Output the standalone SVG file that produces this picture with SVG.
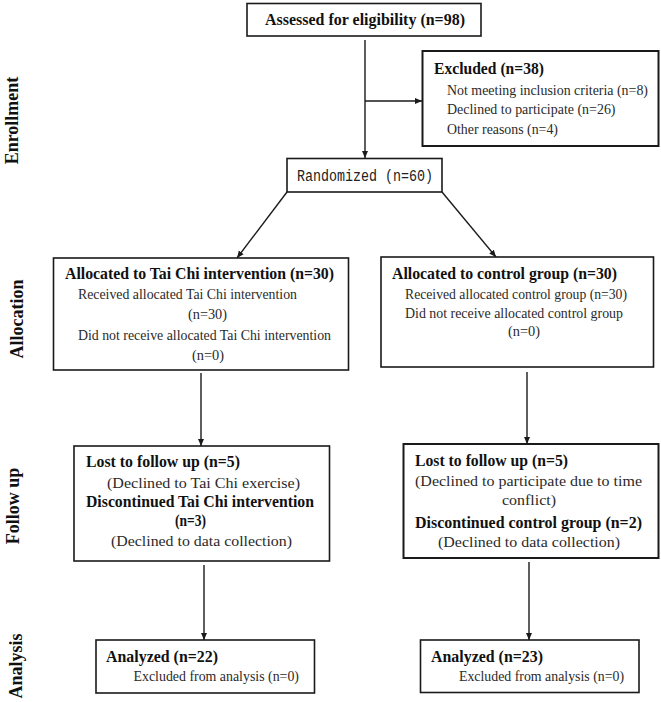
<svg xmlns="http://www.w3.org/2000/svg" width="661" height="702" viewBox="0 0 661 702">
<style>
.box{fill:#fff;stroke:#1a1a1a;stroke-width:1.6}
.b{font-family:"Liberation Serif","Times New Roman",serif;font-weight:bold;font-size:16.5px;fill:#111}
.r{font-family:"Liberation Serif","Times New Roman",serif;font-size:14.5px;fill:#2a2a2a}
.m{font-family:"Liberation Mono","Courier New",monospace;font-size:16px;fill:#222}
.side{font-family:"Liberation Serif","Times New Roman",serif;font-weight:bold;font-size:18px;fill:#111}
.c{text-anchor:middle}
.ln{stroke:#1a1a1a;stroke-width:1.4;fill:none}
</style>
<defs>
<marker id="ah" markerUnits="userSpaceOnUse" markerWidth="8" markerHeight="8" viewBox="0 0 8 8" refX="7" refY="4" orient="auto">
<path d="M0,1 L7,4 L0,7 Z" fill="#1a1a1a"/>
</marker>
</defs>
<rect width="661" height="702" fill="#fff"/>

<g id="labels">
<text class="side c" transform="translate(18,120.5) rotate(-90)">Enrollment</text>
<text class="side c" transform="translate(23,319) rotate(-90)">Allocation</text>
<text class="side c" transform="translate(19,506) rotate(-90)">Follow up</text>
<text class="side c" transform="translate(22,666) rotate(-90)">Analysis</text>
</g>

<g id="connectors">
<line class="ln" x1="365" y1="40" x2="365" y2="158" marker-end="url(#ah)"/>
<line class="ln" x1="365" y1="101" x2="422" y2="101" marker-end="url(#ah)"/>
<line class="ln" x1="287" y1="192" x2="237" y2="258" marker-end="url(#ah)"/>
<line class="ln" x1="442" y1="192" x2="496" y2="257" marker-end="url(#ah)"/>
<line class="ln" x1="201" y1="373" x2="201" y2="446" marker-end="url(#ah)"/>
<line class="ln" x1="527" y1="372" x2="527" y2="444" marker-end="url(#ah)"/>
<line class="ln" x1="204" y1="565" x2="204" y2="640" marker-end="url(#ah)"/>
<line class="ln" x1="529" y1="562" x2="529" y2="640" marker-end="url(#ah)"/>
</g>

<g id="assessed">
<rect class="box" x="247" y="3.5" width="234" height="32.5"/>
<text class="b" x="265" y="25" textLength="200" lengthAdjust="spacingAndGlyphs">Assessed for eligibility (n=98)</text>
</g>

<g id="excluded">
<rect class="box" x="422.5" y="51" width="236" height="95" style="stroke-width:2"/>
<text class="b" x="434" y="74" textLength="110" lengthAdjust="spacingAndGlyphs">Excluded (n=38)</text>
<text class="r" x="447" y="94.5" textLength="201" lengthAdjust="spacingAndGlyphs">Not meeting inclusion criteria (n=8)</text>
<text class="r" x="447" y="114" textLength="168.5" lengthAdjust="spacingAndGlyphs">Declined to participate (n=26)</text>
<text class="r" x="447" y="134" textLength="111" lengthAdjust="spacingAndGlyphs">Other reasons (n=4)</text>
</g>

<g id="randomized">
<rect class="box" x="287" y="158.5" width="155" height="33.5"/>
<text class="m" x="297" y="180.5" textLength="136" lengthAdjust="spacingAndGlyphs">Randomized (n=60)</text>
</g>

<g id="alloc-taichi">
<rect class="box" x="53.5" y="258" width="295" height="112"/>
<text class="b" x="65" y="279" textLength="269" lengthAdjust="spacingAndGlyphs">Allocated to Tai Chi intervention (n=30)</text>
<text class="r" x="78" y="298.5" textLength="219" lengthAdjust="spacingAndGlyphs">Received allocated Tai Chi intervention</text>
<text class="r" x="188" y="319" textLength="39" lengthAdjust="spacingAndGlyphs">(n=30)</text>
<text class="r" x="78" y="339.5" textLength="253" lengthAdjust="spacingAndGlyphs">Did not receive allocated Tai Chi intervention</text>
<text class="r" x="192" y="359.5" textLength="32" lengthAdjust="spacingAndGlyphs">(n=0)</text>
</g>

<g id="alloc-control">
<rect class="box" x="381" y="257" width="272.5" height="110"/>
<text class="b" x="392" y="279" textLength="225" lengthAdjust="spacingAndGlyphs">Allocated to control group (n=30)</text>
<text class="r" x="405" y="298.5" textLength="222" lengthAdjust="spacingAndGlyphs">Received allocated control group (n=30)</text>
<text class="r" x="405" y="317.5" textLength="218" lengthAdjust="spacingAndGlyphs">Did not receive allocated control group</text>
<text class="r" x="508" y="336" textLength="32" lengthAdjust="spacingAndGlyphs">(n=0)</text>
</g>

<g id="lost-taichi">
<rect class="box" x="74" y="446" width="255.5" height="115"/>
<text class="b" x="86" y="467" textLength="154" lengthAdjust="spacingAndGlyphs">Lost to follow up (n=5)</text>
<text class="r" x="107" y="488" textLength="193" lengthAdjust="spacingAndGlyphs">(Declined to Tai Chi exercise)</text>
<text class="b" x="86" y="507" textLength="228" lengthAdjust="spacingAndGlyphs">Discontinued Tai Chi intervention</text>
<text class="b" x="175" y="526" textLength="31" lengthAdjust="spacingAndGlyphs">(n=3)</text>
<text class="r" x="111" y="546" textLength="181" lengthAdjust="spacingAndGlyphs">(Declined to data collection)</text>
</g>

<g id="lost-control">
<rect class="box" x="403.5" y="444" width="255" height="114" style="stroke-width:2"/>
<text class="b" x="415" y="466" textLength="153" lengthAdjust="spacingAndGlyphs">Lost to follow up (n=5)</text>
<text class="r" x="415" y="485.5" textLength="227" lengthAdjust="spacingAndGlyphs">(Declined to participate due to time</text>
<text class="r" x="502" y="504.5" textLength="54" lengthAdjust="spacingAndGlyphs">conflict)</text>
<text class="b" x="415" y="527.5" textLength="227" lengthAdjust="spacingAndGlyphs">Discontinued control group (n=2)</text>
<text class="r" x="438" y="547" textLength="182" lengthAdjust="spacingAndGlyphs">(Declined to data collection)</text>
</g>

<g id="analyzed-taichi">
<rect class="box" x="96" y="640" width="218.5" height="53"/>
<text class="b" x="106" y="661.5" textLength="112" lengthAdjust="spacingAndGlyphs">Analyzed (n=22)</text>
<text class="r" x="133.5" y="681" textLength="165.5" lengthAdjust="spacingAndGlyphs">Excluded from analysis (n=0)</text>
</g>

<g id="analyzed-control">
<rect class="box" x="420.5" y="640" width="218.5" height="52.5"/>
<text class="b" x="431" y="661.5" textLength="112" lengthAdjust="spacingAndGlyphs">Analyzed (n=23)</text>
<text class="r" x="459" y="680.5" textLength="165" lengthAdjust="spacingAndGlyphs">Excluded from analysis (n=0)</text>
</g>
</svg>
